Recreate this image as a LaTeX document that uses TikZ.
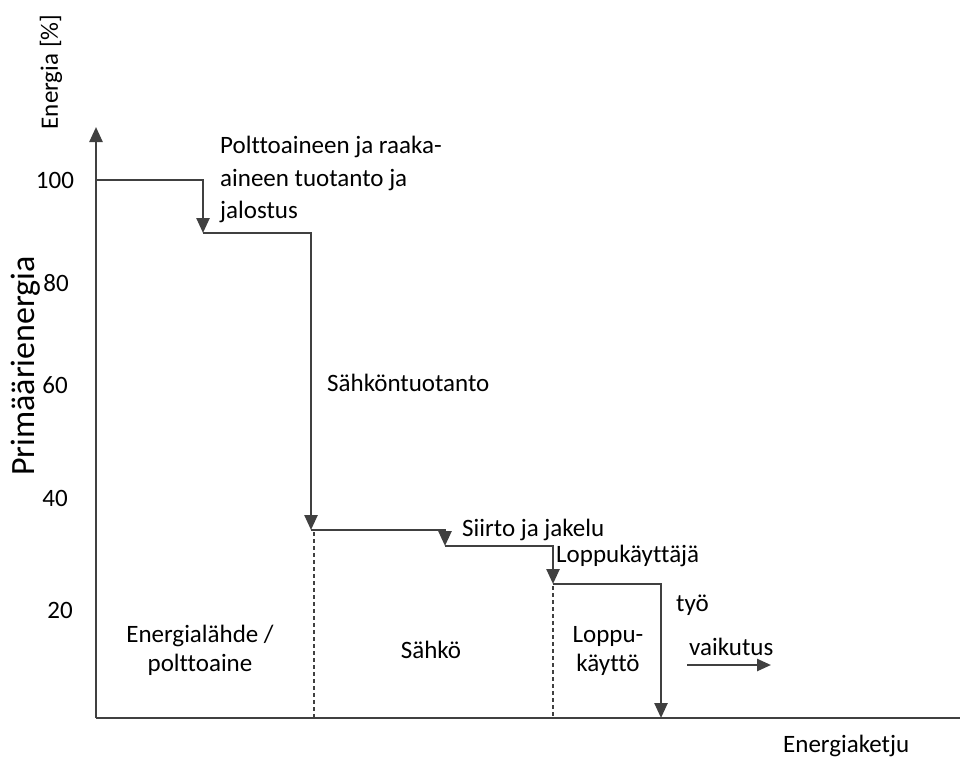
\documentclass[tikz,border=0pt]{standalone}
\usepackage{fontspec}
\setmainfont{Carlito}[Ligatures=CommonOff]
\usetikzlibrary{arrows.meta}
\definecolor{linegrey}{HTML}{404040}
\begin{document}
\begin{tikzpicture}[x=1pt,y=-1pt,
  axis/.style={draw=linegrey,line width=2.5pt},
  stair/.style={draw=linegrey,line width=2.5pt,-{Triangle[width=13pt,length=15pt]}},
  divider/.style={draw=linegrey,line width=2pt,dash pattern=on 4pt off 3pt},
  lbl/.style={inner sep=0pt,font=\fontsize{25}{32}\selectfont,text=black},
  tick/.style={lbl,anchor=center}]
\useasboundingbox (0,0) rectangle (960,758);

% axes
\coordinate (O) at (96,718);
\coordinate (ytop) at (96,127);
\coordinate (xend) at (960,718);
\draw[axis,-{Triangle[width=13pt,length=15pt]}] (O) -- (ytop);
\draw[axis] (O) -- (xend);

% energy staircase
\coordinate (s0) at (96,180);
\coordinate (s1) at (203,180);
\coordinate (s1b) at (203,233);
\coordinate (s2) at (311,233);
\coordinate (s2b) at (311,530);
\coordinate (s3) at (445,530);
\coordinate (s3b) at (445,546);
\coordinate (s4) at (553,546);
\coordinate (s4b) at (553,584);
\coordinate (s5) at (661,584);
\coordinate (s5b) at (661,718);
\draw[stair] (s0) -- (s1) -- (s1b);
\draw[stair] (s1b) -- (s2) -- (s2b);
\draw[stair] (s2b) -- (s3) -- (s3b);
\draw[stair] (s3b) -- (s4) -- (s4b);
\draw[stair] (s4b) -- (s5) -- (s5b);

% stage dividers
\coordinate (d1a) at (314,532);
\coordinate (d1b) at (314,718);
\coordinate (d2a) at (553,586);
\coordinate (d2b) at (553,718);
\draw[divider] (d1a) -- (d1b);
\draw[divider] (d2a) -- (d2b);

% effect arrow
\coordinate (v0) at (687,665);
\coordinate (v1) at (771,665);
\draw[draw=linegrey,line width=2.5pt,-{Triangle[width=12pt,length=14pt]}] (v0) -- (v1);

% tick labels
\node[tick] (t100) at (55,180) {100};
\node[tick] (t80) at (56,283) {80};
\node[tick] (t60) at (55,385) {60};
\node[tick] (t40) at (55,498) {40};
\node[tick] (t20) at (60,610) {20};

% axis titles
\node[lbl,rotate=90] (ytitle) at (51,72) {Energia [\%]};
\node[lbl,rotate=90,font=\fontsize{34}{40}\selectfont] (ptitle) at (26,366) {Primäärienergia};
\node[lbl,anchor=west] (xtitle) at (783,746) {Energiaketju};

% step labels
\node[lbl,anchor=north west,align=left,font=\fontsize{25}{32.5}\selectfont] (l1) at (220,136) {Polttoaineen ja raaka-\\aineen tuotanto ja\\jalostus};
\node[lbl,anchor=west] (l2) at (327,383) {Sähköntuotanto};
\node[lbl,anchor=west] (l3) at (462,530) {Siirto ja jakelu};
\node[lbl,anchor=west] (l4) at (556,556) {Loppukäyttäjä};
\node[lbl,anchor=west] (l5) at (676,605) {työ};
\node[lbl,anchor=west] (l6) at (689,647) {vaikutus};

% stage labels
\node[lbl,align=center,font=\fontsize{25}{29}\selectfont] (z1) at (200,650) {Energialähde /\\polttoaine};
\node[lbl] (z2) at (431,650) {Sähkö};
\node[lbl,align=center,font=\fontsize{25}{29}\selectfont] (z3) at (608,651) {Loppu-\\käyttö};
\end{tikzpicture}
\end{document}
